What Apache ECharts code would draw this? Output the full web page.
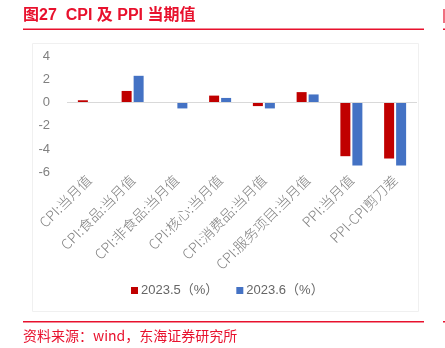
<!DOCTYPE html>
<html><head><meta charset="utf-8">
<script src="https://cdn.jsdelivr.net/npm/echarts@6/dist/echarts.min.js"></script>
<style>html,body{margin:0;padding:0;background:#fff}#c{width:445px;height:348px}</style>
</head><body><div id="c"></div>
<script>
var categories = ['CPI:当月值','CPI:食品:当月值','CPI:非食品:当月值','CPI:核心:当月值','CPI:消费品:当月值','CPI:服务项目:当月值','PPI:当月值','PPI-CPI剪刀差'];
var seriesNames = ['2023.5（%）','2023.6（%）'];
var may = [0.2, 1.0, 0.0, 0.6, -0.3, 0.9, -4.6, -4.8];
var june = [0.0, 2.3, -0.5, 0.4, -0.5, 0.7, -5.4, -5.4];
var yTicks = {min: -6, max: 4, interval: 2};
var titleText = '图27  CPI 及 PPI 当期值';
var sourceText = '资料来源：wind，东海证券研究所';

var RED = '#e8112d';
var chart = echarts.init(document.getElementById('c'), null, {renderer: 'canvas'});
chart.setOption({
  animation: false,
  backgroundColor: '#fff',
  textStyle: {fontFamily: '"Noto Sans CJK SC", "Liberation Sans", sans-serif'},
  grid: {left: 67, right: 28, top: 56, bottom: 175.5, containLabel: false},
  legend: {
    data: seriesNames, left: 126, top: 279, itemWidth: 7, itemHeight: 7, itemGap: 18,
    icon: 'rect',
    textStyle: {color: '#666666', fontSize: 13, padding: [0, 0, 0, -2], fontFamily: '"Liberation Sans", "Noto Sans CJK SC", sans-serif'}
  },
  xAxis: {
    type: 'category', data: categories,
    axisLine: {show: false, onZero: false}, axisTick: {show: false},
    axisLabel: {rotate: 45, color: '#808080', fontSize: 14, fontWeight: 300, margin: 5, interval: 0}
  },
  yAxis: {
    type: 'value', min: yTicks.min, max: yTicks.max, interval: yTicks.interval,
    axisLine: {show: false}, axisTick: {show: false}, splitLine: {show: false},
    axisLabel: {color: '#808080', fontSize: 13, margin: 17, fontFamily: '"Liberation Sans", sans-serif'}
  },
  series: [
    {name: seriesNames[0], type: 'bar', data: may, barWidth: 10, barGap: '20%',
     itemStyle: {color: '#c00000'},
     markLine: {silent: true, symbol: 'none', label: {show: false},
       lineStyle: {color: '#d9d9d9', width: 1, type: 'solid'}, data: [{yAxis: 0}]}},
    {name: seriesNames[1], type: 'bar', data: june, barWidth: 10, barGap: '20%',
     itemStyle: {color: '#4472c4'}}
  ],
  graphic: [
    {type: 'rect', shape: {x: 32.5, y: 43.5, width: 386, height: 268}, style: {fill: 'none', stroke: '#f0f0f0', lineWidth: 1}, z: -1},
    {type: 'text', left: 23, top: 8, style: {text: titleText, fill: RED, font: 'bold 16px "Liberation Sans", "Noto Sans CJK SC", sans-serif'}},
    {type: 'rect', shape: {x: 23, y: 28.5, width: 401, height: 1.5}, style: {fill: RED}},
    {type: 'rect', shape: {x: 443, y: 9, width: 2, height: 14}, style: {fill: '#f07080'}},
    {type: 'rect', shape: {x: 443, y: 28.5, width: 2, height: 1.5}, style: {fill: RED}},
    {type: 'rect', shape: {x: 23, y: 321, width: 401, height: 1.5}, style: {fill: RED}},
    {type: 'rect', shape: {x: 443, y: 321, width: 2, height: 1.5}, style: {fill: RED}},
    {type: 'text', left: 23, top: 329, style: {text: sourceText, fill: RED, font: '14px "Noto Sans CJK SC", sans-serif'}}
  ]
});
</script></body></html>
